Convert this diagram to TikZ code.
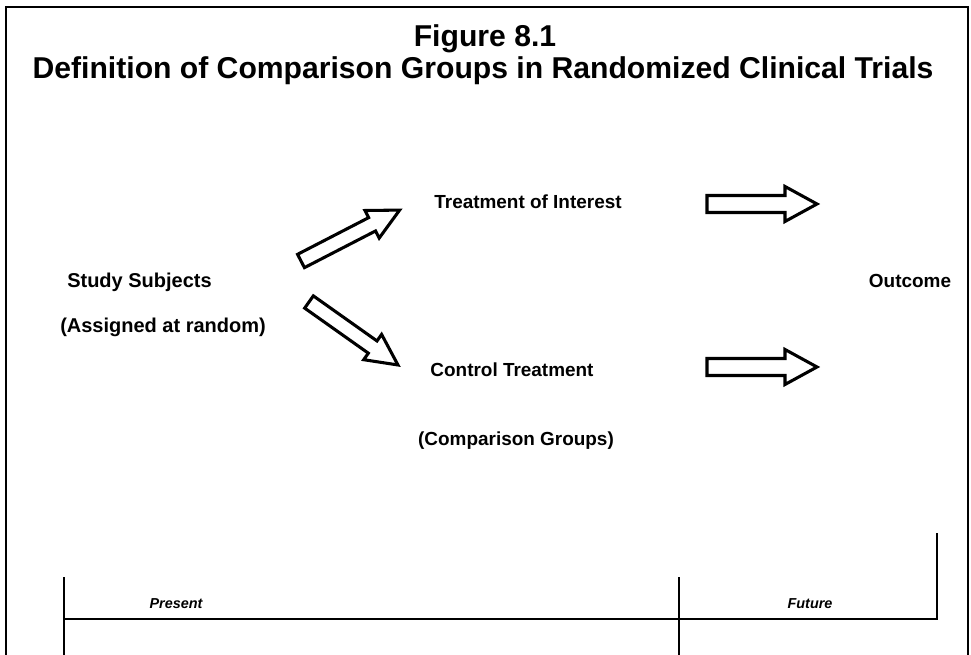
\documentclass[tikz,border=0pt]{standalone}
\usepackage{fontspec}
\setmainfont{Liberation Sans}
\begin{document}
\begin{tikzpicture}[x=0.75pt,y=0.75pt,
  frame/.style={line width=1.6pt},
  tline/.style={line width=1.2pt},
  blk/.style={line width=2.3pt, line join=miter, fill=white},
  ttl/.style={font=\fontsize{22.6}{26}\selectfont\bfseries, inner sep=0pt},
  lbl/.style={font=\fontsize{14.2}{17}\selectfont\bfseries, inner sep=0pt},
  lbll/.style={font=\fontsize{15}{18}\selectfont\bfseries, inner sep=0pt, anchor=west},
  tlab/.style={font=\fontsize{10.8}{13}\selectfont\bfseries\itshape, inner sep=0pt}]
\useasboundingbox (0,0) rectangle (971,655);
% outer frame (open at the bottom)
\draw[frame] (6,0) -- (6,648) -- (968,648) -- (968,0);
% titles
\node[ttl] (t1) at (485,616) {Figure 8.1};
\node[ttl] (t2) at (483,584) {Definition of Comparison Groups in Randomized Clinical Trials};
% labels
\node[lbl] (trt) at (528,453) {Treatment of Interest};
\node[lbll] (ss) at (67,373) {Study Subjects};
\node[lbll] (asg) at (60,328) {(Assigned at random)};
\node[lbl] (ctl) at (512,285) {Control Treatment};
\node[lbl] (cmp) at (516,214) {(Comparison Groups)};
\node[lbl] (out) at (910,374) {Outcome};
% block arrows
\coordinate (ua) at (301,394);
\coordinate (la) at (309,353);
\coordinate (ha) at (707,451);
\coordinate (hb) at (707,288);
\draw[blk, shift={(ua)}, rotate=27.3]
  (0,-7.5) -- (80,-7.5) -- (80,-15.5) -- (111,0) -- (80,15.5) -- (80,7.5) -- (0,7.5) -- cycle;
\draw[blk, shift={(la)}, rotate=-35.3]
  (0,-7.5) -- (78,-7.5) -- (78,-15.5) -- (109,0) -- (78,15.5) -- (78,7.5) -- (0,7.5) -- cycle;
\draw[blk, shift={(ha)}]
  (0,-8.5) -- (78,-8.5) -- (78,-17.5) -- (110,0) -- (78,17.5) -- (78,8.5) -- (0,8.5) -- cycle;
\draw[blk, shift={(hb)}]
  (0,-8.5) -- (78,-8.5) -- (78,-17.5) -- (110,0) -- (78,17.5) -- (78,8.5) -- (0,8.5) -- cycle;
% time line
\coordinate (p0) at (64,0);
\coordinate (p1) at (64,78);
\coordinate (m0) at (679,0);
\coordinate (m1) at (679,78);
\coordinate (h0) at (64,36);
\coordinate (h1) at (937,36);
\coordinate (r1) at (937,122);
\draw[tline] (p0) -- (p1);
\draw[tline] (m0) -- (m1);
\draw[tline] (h0) -- (h1) -- (r1);
\node[tlab] (pres) at (176,51) {Present};
\node[tlab] (fut) at (810,51) {Future};
\end{tikzpicture}
\end{document}
